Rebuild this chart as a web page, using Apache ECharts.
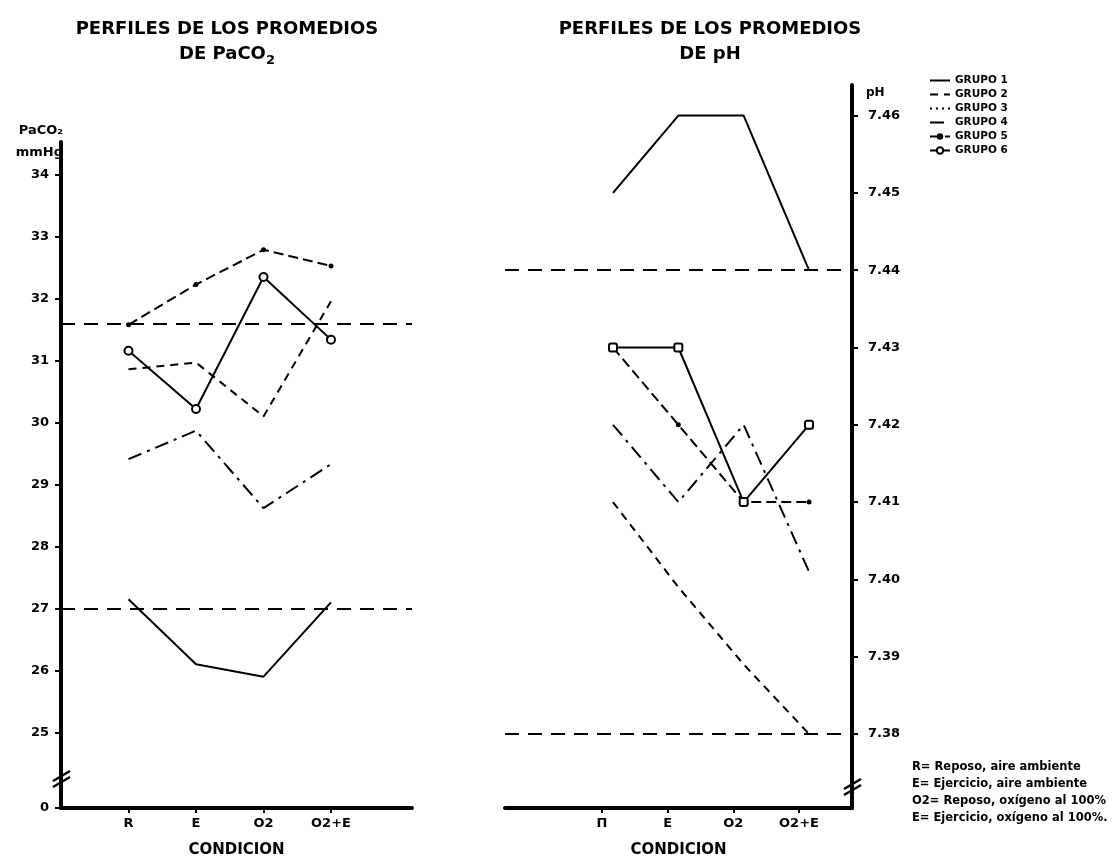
<!DOCTYPE html>
<html>
<head>
<meta charset="utf-8">
<script src="https://cdn.jsdelivr.net/npm/echarts@6/dist/echarts.min.js"></script>
<style>
  html, body { margin: 0; padding: 0; background: #fff; }
  #chart { width: 1112px; height: 863px; }
</style>
</head>
<body>
<div id="chart"></div>
<script>
// Conditions and tick labels
const conditionsPaco2 = ['R', 'E', 'O2', 'O2+E'];
const conditionsPh = ['Π', 'E', 'O2', 'O2+E'];
const conditionTicks = [1, 2, 3, 4];
const groupNames = ['GRUPO 1', 'GRUPO 2', 'GRUPO 3', 'GRUPO 4', 'GRUPO 5', 'GRUPO 6'];
const paco2Ticks = [0, 25, 26, 27, 28, 29, 30, 31, 32, 33, 34];
const phTicks = [7.38, 7.39, 7.40, 7.41, 7.42, 7.43, 7.44, 7.45, 7.46];

// Mean PaCO2 (mmHg) per group and condition
const paco2Grupo1 = [27.15, 26.1, 25.9, 27.1];
const paco2Grupo2 = [30.86, 30.97, 30.1, 31.96];
const paco2Grupo4 = [29.41, 29.87, 28.62, 29.33];
const paco2Grupo5 = [31.58, 32.23, 32.79, 32.53];
const paco2Grupo6 = [31.16, 30.22, 32.35, 31.34];

// Mean pH per group and condition
const phGrupo1 = [7.45, 7.46, 7.46, 7.44];
const phGrupo2 = [7.41, 7.399, 7.389, 7.38];
const phGrupo4 = [7.42, 7.41, 7.42, 7.401];
const phGrupo5 = [7.43, 7.42, 7.41, 7.41];
const phGrupo6 = [7.43, 7.43, 7.41, 7.42];

// Normal limits
const paco2Limits = [31.6, 27.0];
const phLimits = [7.44, 7.38];

const footnoteLines = [
  'R= Reposo, aire ambiente',
  'E= Ejercicio, aire ambiente',
  'O2= Reposo, oxígeno al 100%',
  'E= Ejercicio, oxígeno al 100%.'
];

const FONT = 'DejaVu Sans';
const INK = '#000';
const CLEAR = 'rgba(0,0,0,0)';

const lineTypes = {
  'GRUPO 1': 'solid',
  'GRUPO 2': [8, 6],
  'GRUPO 3': [2, 4],
  'GRUPO 4': [14, 6, 3, 6],
  'GRUPO 5': [10, 5],
  'GRUPO 6': 'solid'
};

function groupSeries(name, values, xAxisIndex, yAxisIndex, markerShape) {
  const s = {
    type: 'line',
    name: name,
    xAxisIndex: xAxisIndex,
    yAxisIndex: yAxisIndex,
    data: values.map((v, i) => [conditionTicks[i], v]),
    lineStyle: { color: INK, width: 2, type: lineTypes[name] },
    symbol: 'none',
    silent: true,
    z: 3
  };
  if (name === 'GRUPO 5') {
    s.symbol = 'circle';
    s.symbolSize = 5;
    s.itemStyle = { color: INK, borderWidth: 0 };
  } else if (name === 'GRUPO 6') {
    s.symbol = markerShape;
    s.symbolSize = 8;
    s.itemStyle = { color: INK, borderColor: INK, borderWidth: 2 };
  } else {
    s.itemStyle = { color: INK };
  }
  return s;
}

function limitSeries(values, xAxisIndex, yAxisIndex) {
  return {
    type: 'line',
    name: 'limites',
    xAxisIndex: xAxisIndex,
    yAxisIndex: yAxisIndex,
    data: [],
    silent: true,
    markLine: {
      symbol: 'none',
      silent: true,
      animation: false,
      label: { show: false },
      lineStyle: { color: INK, width: 2, type: [14, 9] },
      data: values.map(v => ({ yAxis: v }))
    }
  };
}

// legend samples: line only for groups 1-4, line with its marker for groups 5-6
const legendItems = groupNames.map(n =>
  (n === 'GRUPO 5' || n === 'GRUPO 6')
    ? { name: n }
    : { name: n, itemStyle: { color: CLEAR, borderColor: CLEAR, borderWidth: 0 } }
);

const boldLabel = size => ({ color: INK, fontFamily: FONT, fontWeight: 'bold', fontSize: size });

const chart = echarts.init(document.getElementById('chart'), null, { renderer: 'canvas' });

chart.setOption({
  backgroundColor: '#fff',
  animation: false,
  textStyle: { fontFamily: FONT, color: INK },
  title: [
    {
      text: 'PERFILES DE LOS PROMEDIOS\nDE PaCO{s|2}',
      left: 222, top: 12, textAlign: 'center',
      textStyle: {
        color: INK, fontFamily: FONT, fontWeight: 'bold', fontSize: 18, lineHeight: 25,
        rich: { s: { color: INK, fontFamily: FONT, fontWeight: 'bold', fontSize: 13, lineHeight: 25, verticalAlign: 'bottom' } }
      }
    },
    {
      text: 'PERFILES DE LOS PROMEDIOS\nDE pH',
      left: 705, top: 12, textAlign: 'center',
      textStyle: { color: INK, fontFamily: FONT, fontWeight: 'bold', fontSize: 18, lineHeight: 25 }
    }
  ],
  legend: {
    data: legendItems,
    orient: 'vertical',
    left: 924, top: 70,
    itemWidth: 20, itemHeight: 8, itemGap: 3,
    selectedMode: false,
    textStyle: boldLabel(10.5)
  },
  grid: [
    { left: 61, top: 142, width: 351, height: 675, containLabel: false },
    { left: 505, top: 85, width: 347, height: 732, containLabel: false }
  ],
  xAxis: [
    {
      gridIndex: 0, type: 'value', min: 0, max: 5.2,
      name: 'CONDICION', nameLocation: 'middle', nameGap: 35,
      nameTextStyle: boldLabel(15),
      axisLine: { show: true, onZero: false, lineStyle: { color: INK, width: 4 } },
      axisTick: { show: true, customValues: conditionTicks, length: 5, lineStyle: { color: INK, width: 2 } },
      axisLabel: {
        customValues: conditionTicks, margin: 9, ...boldLabel(13),
        formatter: v => conditionsPaco2[conditionTicks.indexOf(v)]
      },
      splitLine: { show: false }
    },
    {
      gridIndex: 1, type: 'value', min: -0.477, max: 4.807,
      name: 'CONDICION', nameLocation: 'middle', nameGap: 35,
      nameTextStyle: boldLabel(15),
      axisLine: { show: true, onZero: false, lineStyle: { color: INK, width: 4 } },
      axisTick: { show: true, customValues: conditionTicks, length: 5, lineStyle: { color: INK, width: 2 } },
      axisLabel: {
        customValues: conditionTicks, margin: 9, ...boldLabel(13),
        formatter: v => conditionsPh[conditionTicks.indexOf(v)]
      },
      splitLine: { show: false }
    },
    {
      // scale on which the pH profiles are plotted
      gridIndex: 1, type: 'value', min: -0.653, max: 4.658, show: false,
      splitLine: { show: false }
    }
  ],
  yAxis: [
    {
      gridIndex: 0, type: 'value', min: 0, max: 34.53,
      breaks: [{ start: 0.25, end: 24.75, gap: 0.72 }],
      breakArea: { show: false },
      name: 'PaCO₂\nmmHg', nameLocation: 'end', nameGap: 0,
      nameTextStyle: { ...boldLabel(13), align: 'right', verticalAlign: 'middle', lineHeight: 22, padding: [0, -2, 0, 0] },
      axisLine: { show: true, onZero: false, lineStyle: { color: INK, width: 4 } },
      axisTick: { show: true, customValues: paco2Ticks, length: 6, lineStyle: { color: INK, width: 2 } },
      axisLabel: { customValues: paco2Ticks, margin: 12, ...boldLabel(13) },
      splitLine: { show: false }
    },
    {
      gridIndex: 1, type: 'value', position: 'right', min: 7.37042, max: 7.46396,
      name: 'pH', nameLocation: 'end', nameGap: -2,
      nameTextStyle: { ...boldLabel(12), align: 'left', verticalAlign: 'top', padding: [0, 0, 0, 14] },
      axisLine: { show: true, onZero: false, lineStyle: { color: INK, width: 4 } },
      axisTick: { show: true, customValues: phTicks, length: 6, lineStyle: { color: INK, width: 2 } },
      axisLabel: { customValues: phTicks, margin: 16, ...boldLabel(13), formatter: v => v.toFixed(2) },
      splitLine: { show: false }
    }
  ],
  graphic: [
    // axis line carried through the break, with the break marks
    { type: 'line', shape: { x1: 61, y1: 742, x2: 61, y2: 806 }, style: { stroke: INK, lineWidth: 4 } },
    { type: 'line', shape: { x1: 53, y1: 781, x2: 70, y2: 771 }, style: { stroke: INK, lineWidth: 2.5 } },
    { type: 'line', shape: { x1: 53, y1: 787, x2: 70, y2: 777 }, style: { stroke: INK, lineWidth: 2.5 } },
    { type: 'line', shape: { x1: 844, y1: 789, x2: 861, y2: 779 }, style: { stroke: INK, lineWidth: 2.5 } },
    { type: 'line', shape: { x1: 844, y1: 795, x2: 861, y2: 785 }, style: { stroke: INK, lineWidth: 2.5 } },
    {
      type: 'text', left: 912, top: 759,
      style: { text: footnoteLines.join('\n'), font: 'bold 11.5px "DejaVu Sans"', fill: INK, lineHeight: 17 }
    }
  ],
  series: [
    limitSeries(paco2Limits, 0, 0),
    groupSeries('GRUPO 1', paco2Grupo1, 0, 0),
    groupSeries('GRUPO 2', paco2Grupo2, 0, 0),
    groupSeries('GRUPO 3', [], 0, 0),
    groupSeries('GRUPO 4', paco2Grupo4, 0, 0),
    groupSeries('GRUPO 5', paco2Grupo5, 0, 0),
    groupSeries('GRUPO 6', paco2Grupo6, 0, 0, 'emptyCircle'),

    limitSeries(phLimits, 2, 1),
    groupSeries('GRUPO 1', phGrupo1, 2, 1),
    groupSeries('GRUPO 2', phGrupo2, 2, 1),
    groupSeries('GRUPO 4', phGrupo4, 2, 1),
    groupSeries('GRUPO 5', phGrupo5, 2, 1),
    groupSeries('GRUPO 6', phGrupo6, 2, 1, 'emptyRoundRect')
  ]
});
</script>
</body>
</html>
